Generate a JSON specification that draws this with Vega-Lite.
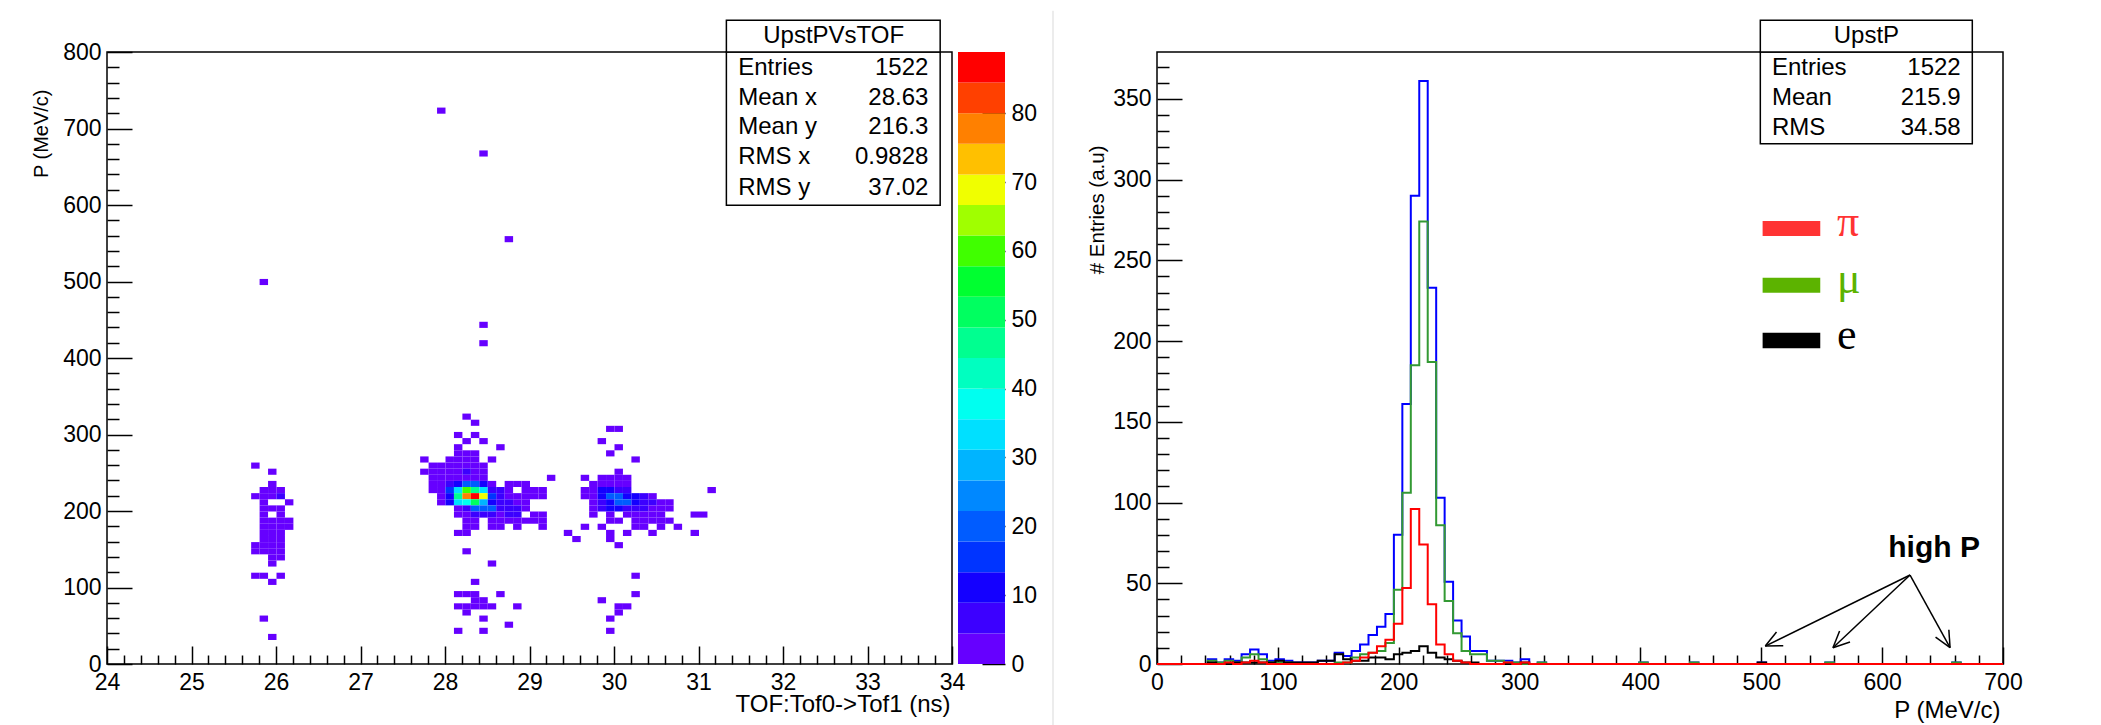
{
"$schema": "https://vega.github.io/schema/vega-lite/v6.json",
"background": "white",
"padding": {"left": 30, "top": 9, "right": 0, "bottom": 0},
"bounds": "flush",
"spacing": 6,
"config": {
  "view": {"stroke": "black", "strokeWidth": 1.5},
  "axis": {"labelFont": "Liberation Sans", "labelFontSize": 23, "labelColor": "black", "titleFont": "Liberation Sans", "titleFontSize": 22, "titleFontWeight": "normal", "titleColor": "black", "tickColor": "black", "tickWidth": 1.5, "domain": false, "grid": false, "labelOverlap": false, "labelFlush": false, "labelBound": false}
},
"datasets": {
  "cells": [
{"x":25.7,"y":256,"c":1},{"x":25.9,"y":248,"c":1},{"x":25.9,"y":232,"c":1},
{"x":25.8,"y":224,"c":2},{"x":25.9,"y":224,"c":1},{"x":26.0,"y":224,"c":1},
{"x":25.7,"y":216,"c":2},{"x":25.8,"y":216,"c":2},{"x":25.9,"y":216,"c":1},{"x":26.0,"y":216,"c":5},
{"x":25.8,"y":208,"c":1},{"x":26.1,"y":208,"c":2},
{"x":25.8,"y":200,"c":2},{"x":25.9,"y":200,"c":3},{"x":26.0,"y":200,"c":2},
{"x":25.8,"y":192,"c":3},{"x":26.0,"y":192,"c":2},
{"x":25.8,"y":184,"c":2},{"x":25.9,"y":184,"c":2},{"x":26.0,"y":184,"c":3},{"x":26.1,"y":184,"c":1},
{"x":25.8,"y":176,"c":3},{"x":25.9,"y":176,"c":2},{"x":26.0,"y":176,"c":2},{"x":26.1,"y":176,"c":2},
{"x":25.8,"y":168,"c":2},{"x":25.9,"y":168,"c":3},{"x":26.0,"y":168,"c":2},
{"x":25.8,"y":160,"c":3},{"x":25.9,"y":160,"c":2},{"x":26.0,"y":160,"c":2},
{"x":25.7,"y":152,"c":1},{"x":25.8,"y":152,"c":3},{"x":25.9,"y":152,"c":2},{"x":26.0,"y":152,"c":1},
{"x":25.7,"y":144,"c":2},{"x":25.8,"y":144,"c":2},{"x":25.9,"y":144,"c":2},{"x":26.0,"y":144,"c":3},
{"x":25.9,"y":136,"c":2},{"x":26.0,"y":136,"c":1},{"x":25.9,"y":128,"c":1},
{"x":25.7,"y":112,"c":1},{"x":25.8,"y":112,"c":1},{"x":26.0,"y":112,"c":1},
{"x":25.9,"y":104,"c":1},{"x":25.8,"y":56,"c":1},{"x":25.9,"y":32,"c":1},{"x":25.8,"y":496,"c":1},
{"x":28.2,"y":320,"c":1},{"x":28.3,"y":312,"c":1},
{"x":28.1,"y":296,"c":1},{"x":28.3,"y":296,"c":1},
{"x":28.2,"y":288,"c":1},{"x":28.4,"y":288,"c":1},
{"x":28.1,"y":280,"c":1},{"x":28.6,"y":280,"c":1},
{"x":28.1,"y":272,"c":2},{"x":28.2,"y":272,"c":1},{"x":28.3,"y":272,"c":1},
{"x":27.7,"y":264,"c":1},{"x":28.0,"y":264,"c":2},{"x":28.1,"y":264,"c":3},{"x":28.2,"y":264,"c":3},{"x":28.3,"y":264,"c":2},{"x":28.5,"y":264,"c":1},
{"x":27.8,"y":256,"c":2},{"x":27.9,"y":256,"c":3},{"x":28.0,"y":256,"c":3},{"x":28.1,"y":256,"c":4},{"x":28.2,"y":256,"c":3},{"x":28.3,"y":256,"c":4},{"x":28.4,"y":256,"c":2},
{"x":27.7,"y":248,"c":1},{"x":27.8,"y":248,"c":3},{"x":27.9,"y":248,"c":3},{"x":28.0,"y":248,"c":4},{"x":28.1,"y":248,"c":4},{"x":28.2,"y":248,"c":6},{"x":28.3,"y":248,"c":4},{"x":28.4,"y":248,"c":3},
{"x":27.8,"y":240,"c":2},{"x":27.9,"y":240,"c":3},{"x":28.0,"y":240,"c":4},{"x":28.1,"y":240,"c":4},{"x":28.2,"y":240,"c":3},{"x":28.3,"y":240,"c":4},{"x":28.4,"y":240,"c":3},{"x":29.2,"y":240,"c":1},
{"x":27.8,"y":232,"c":2},{"x":27.9,"y":232,"c":3},{"x":28.0,"y":232,"c":7},{"x":28.1,"y":232,"c":12},{"x":28.2,"y":232,"c":20},{"x":28.3,"y":232,"c":18},{"x":28.4,"y":232,"c":10},{"x":28.5,"y":232,"c":3},{"x":28.7,"y":232,"c":2},{"x":28.8,"y":232,"c":1},{"x":28.9,"y":232,"c":2},
{"x":27.8,"y":224,"c":1},{"x":27.9,"y":224,"c":4},{"x":28.0,"y":224,"c":14},{"x":28.1,"y":224,"c":33},{"x":28.2,"y":224,"c":58},{"x":28.3,"y":224,"c":48},{"x":28.4,"y":224,"c":32},{"x":28.5,"y":224,"c":7},{"x":28.6,"y":224,"c":5},{"x":28.7,"y":224,"c":3},{"x":28.9,"y":224,"c":2},{"x":29.0,"y":224,"c":3},{"x":29.1,"y":224,"c":2},
{"x":27.9,"y":216,"c":3},{"x":28.0,"y":216,"c":12},{"x":28.1,"y":216,"c":45},{"x":28.2,"y":216,"c":78},{"x":28.3,"y":216,"c":88},{"x":28.4,"y":216,"c":68},{"x":28.5,"y":216,"c":17},{"x":28.6,"y":216,"c":6},{"x":28.7,"y":216,"c":4},{"x":28.8,"y":216,"c":3},{"x":28.9,"y":216,"c":3},{"x":29.0,"y":216,"c":2},{"x":29.1,"y":216,"c":1},
{"x":27.9,"y":208,"c":2},{"x":28.0,"y":208,"c":9},{"x":28.1,"y":208,"c":33},{"x":28.2,"y":208,"c":40},{"x":28.3,"y":208,"c":50},{"x":28.4,"y":208,"c":30},{"x":28.5,"y":208,"c":13},{"x":28.6,"y":208,"c":5},{"x":28.7,"y":208,"c":6},{"x":28.8,"y":208,"c":3},{"x":28.9,"y":208,"c":2},
{"x":28.1,"y":200,"c":3},{"x":28.2,"y":200,"c":8},{"x":28.3,"y":200,"c":20},{"x":28.4,"y":200,"c":22},{"x":28.5,"y":200,"c":19},{"x":28.6,"y":200,"c":6},{"x":28.7,"y":200,"c":6},{"x":28.8,"y":200,"c":5},{"x":28.9,"y":200,"c":3},
{"x":28.1,"y":192,"c":2},{"x":28.2,"y":192,"c":4},{"x":28.3,"y":192,"c":5},{"x":28.4,"y":192,"c":6},{"x":28.5,"y":192,"c":6},{"x":28.6,"y":192,"c":4},{"x":28.7,"y":192,"c":5},{"x":28.8,"y":192,"c":6},{"x":29.0,"y":192,"c":2},{"x":29.1,"y":192,"c":1},
{"x":28.2,"y":184,"c":1},{"x":28.3,"y":184,"c":1},{"x":28.5,"y":184,"c":2},{"x":28.6,"y":184,"c":1},{"x":28.7,"y":184,"c":2},{"x":28.8,"y":184,"c":2},{"x":28.9,"y":184,"c":2},{"x":29.0,"y":184,"c":2},{"x":29.1,"y":184,"c":2},
{"x":28.2,"y":176,"c":2},{"x":28.3,"y":176,"c":1},{"x":28.5,"y":176,"c":2},{"x":28.6,"y":176,"c":1},{"x":28.8,"y":176,"c":1},{"x":29.1,"y":176,"c":1},
{"x":28.1,"y":168,"c":2},{"x":28.2,"y":168,"c":1},{"x":28.2,"y":144,"c":1},{"x":28.5,"y":128,"c":1},{"x":28.3,"y":104,"c":1},
{"x":28.1,"y":88,"c":2},{"x":28.2,"y":88,"c":2},{"x":28.3,"y":88,"c":1},{"x":28.6,"y":88,"c":1},
{"x":28.3,"y":80,"c":2},{"x":28.4,"y":80,"c":1},
{"x":28.1,"y":72,"c":2},{"x":28.2,"y":72,"c":2},{"x":28.3,"y":72,"c":1},{"x":28.4,"y":72,"c":1},{"x":28.5,"y":72,"c":1},{"x":28.8,"y":72,"c":1},
{"x":28.2,"y":64,"c":1},{"x":28.4,"y":56,"c":1},{"x":28.7,"y":48,"c":1},{"x":28.1,"y":40,"c":1},{"x":28.4,"y":40,"c":1},
{"x":29.9,"y":304,"c":1},{"x":30.0,"y":304,"c":1},{"x":29.8,"y":288,"c":1},{"x":30.0,"y":280,"c":1},{"x":29.9,"y":272,"c":1},{"x":30.2,"y":264,"c":1},{"x":30.0,"y":248,"c":1},
{"x":29.6,"y":240,"c":1},{"x":29.8,"y":240,"c":2},{"x":29.9,"y":240,"c":2},{"x":30.0,"y":240,"c":3},{"x":30.1,"y":240,"c":1},
{"x":29.7,"y":232,"c":2},{"x":29.8,"y":232,"c":4},{"x":29.9,"y":232,"c":3},{"x":30.0,"y":232,"c":4},{"x":30.1,"y":232,"c":2},
{"x":29.6,"y":224,"c":1},{"x":29.7,"y":224,"c":3},{"x":29.8,"y":224,"c":9},{"x":29.9,"y":224,"c":10},{"x":30.0,"y":224,"c":8},{"x":30.1,"y":224,"c":7},{"x":31.1,"y":224,"c":1},
{"x":29.6,"y":216,"c":1},{"x":29.7,"y":216,"c":3},{"x":29.8,"y":216,"c":10},{"x":29.9,"y":216,"c":20},{"x":30.0,"y":216,"c":22},{"x":30.1,"y":216,"c":12},{"x":30.2,"y":216,"c":10},{"x":30.3,"y":216,"c":6},{"x":30.4,"y":216,"c":3},
{"x":29.7,"y":208,"c":2},{"x":29.8,"y":208,"c":8},{"x":29.9,"y":208,"c":9},{"x":30.0,"y":208,"c":20},{"x":30.1,"y":208,"c":18},{"x":30.2,"y":208,"c":12},{"x":30.3,"y":208,"c":8},{"x":30.4,"y":208,"c":5},{"x":30.5,"y":208,"c":3},{"x":30.6,"y":208,"c":2},
{"x":29.7,"y":200,"c":2},{"x":29.8,"y":200,"c":7},{"x":29.9,"y":200,"c":9},{"x":30.0,"y":200,"c":12},{"x":30.1,"y":200,"c":8},{"x":30.2,"y":200,"c":7},{"x":30.3,"y":200,"c":7},{"x":30.4,"y":200,"c":4},{"x":30.5,"y":200,"c":3},{"x":30.6,"y":200,"c":2},
{"x":29.7,"y":192,"c":1},{"x":29.9,"y":192,"c":2},{"x":30.1,"y":192,"c":3},{"x":30.2,"y":192,"c":3},{"x":30.3,"y":192,"c":2},{"x":30.4,"y":192,"c":2},{"x":30.5,"y":192,"c":1},{"x":30.9,"y":192,"c":1},{"x":31.0,"y":192,"c":1},
{"x":29.9,"y":184,"c":1},{"x":30.0,"y":184,"c":2},{"x":30.2,"y":184,"c":2},{"x":30.3,"y":184,"c":3},{"x":30.4,"y":184,"c":2},{"x":30.5,"y":184,"c":1},{"x":30.6,"y":184,"c":1},
{"x":29.6,"y":176,"c":1},{"x":29.8,"y":176,"c":1},{"x":30.2,"y":176,"c":1},{"x":30.3,"y":176,"c":1},{"x":30.5,"y":176,"c":1},{"x":30.7,"y":176,"c":1},
{"x":29.4,"y":168,"c":1},{"x":29.9,"y":168,"c":1},{"x":30.1,"y":168,"c":1},{"x":30.4,"y":168,"c":1},{"x":30.9,"y":168,"c":1},
{"x":29.5,"y":160,"c":1},{"x":29.9,"y":160,"c":2},{"x":30.0,"y":152,"c":1},{"x":30.2,"y":112,"c":1},{"x":30.2,"y":88,"c":1},{"x":29.8,"y":80,"c":1},
{"x":30.0,"y":72,"c":1},{"x":30.1,"y":72,"c":1},{"x":30.0,"y":64,"c":1},{"x":29.9,"y":56,"c":1},{"x":29.9,"y":40,"c":1},
{"x":27.9,"y":720,"c":1},{"x":28.4,"y":664,"c":1},{"x":28.7,"y":552,"c":1},{"x":28.4,"y":440,"c":1},{"x":28.4,"y":416,"c":1}
  ],
  "bands": [
{"lo":0,"hi":4.445,"m":2},{"lo":4.445,"hi":8.89,"m":6},{"lo":8.89,"hi":13.335,"m":11},{"lo":13.335,"hi":17.78,"m":15},
{"lo":17.78,"hi":22.225,"m":20},{"lo":22.225,"hi":26.67,"m":24},{"lo":26.67,"hi":31.115,"m":29},{"lo":31.115,"hi":35.56,"m":33},
{"lo":35.56,"hi":40.005,"m":38},{"lo":40.005,"hi":44.45,"m":42},{"lo":44.45,"hi":48.895,"m":47},{"lo":48.895,"hi":53.34,"m":51},
{"lo":53.34,"hi":57.785,"m":55},{"lo":57.785,"hi":62.23,"m":60},{"lo":62.23,"hi":66.675,"m":64},{"lo":66.675,"hi":71.12,"m":69},
{"lo":71.12,"hi":75.565,"m":73},{"lo":75.565,"hi":80.01,"m":78},{"lo":80.01,"hi":84.455,"m":82},{"lo":84.455,"hi":88.9,"m":87}
  ],
  "hist": [
{"p":0,"a":0,"m":0,"r":0,"e":0},{"p":7,"a":0,"m":0,"r":0,"e":0},{"p":14,"a":0,"m":0,"r":0,"e":0},{"p":21,"a":0,"m":0,"r":0,"e":0},
{"p":28,"a":0,"m":0,"r":0,"e":0},{"p":35,"a":0,"m":0,"r":0,"e":0},{"p":42,"a":3,"m":2,"r":0,"e":1},{"p":49,"a":1,"m":1,"r":0,"e":0},
{"p":56,"a":3,"m":2,"r":1,"e":0},{"p":63,"a":2,"m":1,"r":0,"e":1},{"p":70,"a":6,"m":4,"r":1,"e":1},{"p":77,"a":9,"m":6,"r":2,"e":1},
{"p":84,"a":6,"m":3,"r":1,"e":1},{"p":91,"a":2,"m":1,"r":0,"e":1},{"p":98,"a":3,"m":1,"r":0,"e":2},{"p":105,"a":2,"m":1,"r":0,"e":1},
{"p":112,"a":1,"m":0,"r":0,"e":1},{"p":119,"a":1,"m":0,"r":0,"e":1},{"p":126,"a":1,"m":0,"r":0,"e":1},{"p":133,"a":2,"m":0,"r":0,"e":2},
{"p":140,"a":2,"m":0,"r":0,"e":2},{"p":147,"a":7,"m":1,"r":0,"e":6},{"p":154,"a":5,"m":1,"r":1,"e":3},{"p":161,"a":8,"m":4,"r":2,"e":2},
{"p":168,"a":12,"m":6,"r":4,"e":2},{"p":175,"a":18,"m":7,"r":7,"e":4},{"p":182,"a":23,"m":8,"r":11,"e":4},{"p":189,"a":31,"m":13,"r":15,"e":3},
{"p":196,"a":80,"m":46,"r":25,"e":6},{"p":203,"a":161,"m":106,"r":47,"e":7},{"p":210,"a":290,"m":185,"r":96,"e":8},{"p":217,"a":361,"m":274,"r":74,"e":11},
{"p":224,"a":233,"m":187,"r":37,"e":7},{"p":231,"a":103,"m":86,"r":12,"e":4},{"p":238,"a":51,"m":39,"r":6,"e":3},{"p":245,"a":27,"m":19,"r":2,"e":2},
{"p":252,"a":17,"m":8,"r":1,"e":1},{"p":259,"a":8,"m":6,"r":0,"e":1},{"p":266,"a":8,"m":6,"r":0,"e":0},{"p":273,"a":2,"m":2,"r":0,"e":0},
{"p":280,"a":2,"m":2,"r":0,"e":0},{"p":287,"a":2,"m":1,"r":1,"e":0},{"p":294,"a":1,"m":1,"r":0,"e":0},{"p":301,"a":3,"m":0,"r":1,"e":1},
{"p":308,"a":0,"m":0,"r":0,"e":0},{"p":315,"a":1,"m":1,"r":0,"e":0},{"p":322,"a":0,"m":0,"r":0,"e":0},{"p":329,"a":0,"m":0,"r":0,"e":0},
{"p":336,"a":0,"m":0,"r":0,"e":0},{"p":343,"a":0,"m":0,"r":0,"e":0},{"p":350,"a":0,"m":0,"r":0,"e":0},{"p":357,"a":0,"m":0,"r":0,"e":0},
{"p":364,"a":0,"m":0,"r":0,"e":0},{"p":371,"a":0,"m":0,"r":0,"e":0},{"p":378,"a":0,"m":0,"r":0,"e":0},{"p":385,"a":0,"m":0,"r":0,"e":0},
{"p":392,"a":0,"m":0,"r":0,"e":0},{"p":399,"a":1,"m":1,"r":0,"e":0},{"p":406,"a":0,"m":0,"r":0,"e":0},{"p":413,"a":0,"m":0,"r":0,"e":0},
{"p":420,"a":0,"m":0,"r":0,"e":0},{"p":427,"a":0,"m":0,"r":0,"e":0},{"p":434,"a":0,"m":0,"r":0,"e":0},{"p":441,"a":1,"m":1,"r":0,"e":0},
{"p":448,"a":0,"m":0,"r":0,"e":0},{"p":455,"a":0,"m":0,"r":0,"e":0},{"p":462,"a":0,"m":0,"r":0,"e":0},{"p":469,"a":0,"m":0,"r":0,"e":0},
{"p":476,"a":0,"m":0,"r":0,"e":0},{"p":483,"a":0,"m":0,"r":0,"e":0},{"p":490,"a":0,"m":0,"r":0,"e":0},{"p":497,"a":1,"m":0,"r":0,"e":1},
{"p":504,"a":0,"m":0,"r":0,"e":0},{"p":511,"a":0,"m":0,"r":0,"e":0},{"p":518,"a":0,"m":0,"r":0,"e":0},{"p":525,"a":0,"m":0,"r":0,"e":0},
{"p":532,"a":0,"m":0,"r":0,"e":0},{"p":539,"a":0,"m":0,"r":0,"e":0},{"p":546,"a":0,"m":0,"r":0,"e":0},{"p":553,"a":1,"m":1,"r":0,"e":0},
{"p":560,"a":0,"m":0,"r":0,"e":0},{"p":567,"a":0,"m":0,"r":0,"e":0},{"p":574,"a":0,"m":0,"r":0,"e":0},{"p":581,"a":0,"m":0,"r":0,"e":0},
{"p":588,"a":0,"m":0,"r":0,"e":0},{"p":595,"a":0,"m":0,"r":0,"e":0},{"p":602,"a":0,"m":0,"r":0,"e":0},{"p":609,"a":0,"m":0,"r":0,"e":0},
{"p":616,"a":0,"m":0,"r":0,"e":0},{"p":623,"a":0,"m":0,"r":0,"e":0},{"p":630,"a":0,"m":0,"r":0,"e":0},{"p":637,"a":0,"m":0,"r":0,"e":0},
{"p":644,"a":0,"m":0,"r":0,"e":0},{"p":651,"a":0,"m":0,"r":0,"e":0},{"p":658,"a":1,"m":1,"r":0,"e":0},{"p":665,"a":0,"m":0,"r":0,"e":0},
{"p":672,"a":0,"m":0,"r":0,"e":0},{"p":679,"a":0,"m":0,"r":0,"e":0},{"p":686,"a":0,"m":0,"r":0,"e":0},{"p":693,"a":0,"m":0,"r":0,"e":0},
{"p":700,"a":0,"m":0,"r":0,"e":0}
  ]
},
"hconcat": [
{
  "width": 845, "height": 612,
  "layer": [
    {"data": {"name": "cells"},
     "mark": {"type": "rect", "binSpacing": 0},
     "encoding": {
       "x": {"field": "x", "type": "quantitative", "bin": {"binned": true, "step": 0.1}, "scale": {"domain": [24, 34], "nice": false, "zero": false},
             "axis": {"values": [24,24.2,24.4,24.6,24.8,25,25.2,25.4,25.6,25.8,26,26.2,26.4,26.6,26.8,27,27.2,27.4,27.6,27.8,28,28.2,28.4,28.6,28.8,29,29.2,29.4,29.6,29.8,30,30.2,30.4,30.6,30.8,31,31.2,31.4,31.6,31.8,32,32.2,32.4,32.6,32.8,33,33.2,33.4,33.6,33.8,34],
                      "tickCount": 500, "tickMinStep": 0.01,
                      "labelExpr": "abs(datum.value - round(datum.value)) < 0.001 ? format(datum.value, 'd') : ''", "labelOverlap": false,
                      "tickSize": {"condition": {"test": "abs(datum.value - round(datum.value)) < 0.001", "value": -18}, "value": -9},
                      "labelPadding": 25,
                      "title": "TOF:Tof0->Tof1 (ns)", "titleFontSize": 24, "titleX": 843, "titleY": 47, "titleAlign": "right", "titleBaseline": "alphabetic", "titleAngle": 0}},
       "y": {"field": "y", "type": "quantitative", "bin": {"binned": true, "step": 8}, "scale": {"domain": [0, 800], "nice": false, "zero": false},
             "axis": {"values": [0,20,40,60,80,100,120,140,160,180,200,220,240,260,280,300,320,340,360,380,400,420,440,460,480,500,520,540,560,580,600,620,640,660,680,700,720,740,760,780,800],
                      "tickCount": 500, "tickMinStep": 1,
                      "format": "d", "labelExpr": "datum.value % 100 === 0 ? datum.label : ''", "labelOverlap": false,
                      "tickSize": {"condition": {"test": "datum.value % 100 === 0", "value": -25}, "value": -12},
                      "labelPadding": 31,
                      "title": "P (MeV/c)", "titleFontSize": 20, "titleX": -66, "titleY": 37, "titleAlign": "right", "titleBaseline": "middle", "titleAngle": 270}},
       "color": {"field": "c", "type": "quantitative", "legend": null,
                 "scale": {"type": "threshold", "domain": [4.445,8.89,13.335,17.78,22.225,26.67,31.115,35.56,40.005,44.45,48.895,53.34,57.785,62.23,66.675,71.12,75.565,80.01,84.455],
                           "range": ["#6600ff","#3c00ff","#1400ff","#0034ff","#005cff","#0088ff","#00b4ff","#00e0ff","#00fff0","#00ffc0","#00ff90","#00ff60","#00ff30","#40ff00","#a0ff00","#f0ff00","#ffc000","#ff8000","#ff4000","#ff0000"]}}
     }},
    {"data": {"values": [{"x":31.33,"x2":33.86,"y":599.6,"y2":800},{"x":31.33,"x2":33.86,"y":800,"y2":841.4}]},
     "mark": {"type": "rect", "fill": "white", "stroke": "black", "strokeWidth": 1.5},
     "encoding": {
       "x": {"field": "x", "type": "quantitative", "scale": {"domain": [24, 34], "nice": false, "zero": false}},
       "x2": {"field": "x2"},
       "y": {"field": "y", "type": "quantitative", "scale": {"domain": [0, 800], "nice": false, "zero": false}},
       "y2": {"field": "y2"}
     }},
    {"data": {"values": [{"x":32.6,"y":820.9,"t":"UpstPVsTOF"}]},
     "mark": {"type": "text", "align": "center", "baseline": "middle", "font": "Liberation Sans", "fontSize": 24, "color": "black"},
     "encoding": {
       "x": {"field": "x", "type": "quantitative", "scale": {"domain": [24, 34], "nice": false, "zero": false}},
       "y": {"field": "y", "type": "quantitative", "scale": {"domain": [0, 800], "nice": false, "zero": false}},
       "text": {"field": "t"}
     }},
    {"data": {"values": [{"x":31.47,"y":779.5,"t":"Entries"},{"x":31.47,"y":739.5,"t":"Mean x"},{"x":31.47,"y":701.7,"t":"Mean y"},{"x":31.47,"y":662.5,"t":"RMS x"},{"x":31.47,"y":622.6,"t":"RMS y"}]},
     "mark": {"type": "text", "align": "left", "baseline": "middle", "font": "Liberation Sans", "fontSize": 24, "color": "black"},
     "encoding": {
       "x": {"field": "x", "type": "quantitative", "scale": {"domain": [24, 34], "nice": false, "zero": false}},
       "y": {"field": "y", "type": "quantitative", "scale": {"domain": [0, 800], "nice": false, "zero": false}},
       "text": {"field": "t"}
     }},
    {"data": {"values": [{"x":33.72,"y":779.5,"t":"1522"},{"x":33.72,"y":739.5,"t":"28.63"},{"x":33.72,"y":701.7,"t":"216.3"},{"x":33.72,"y":662.5,"t":"0.9828"},{"x":33.72,"y":622.6,"t":"37.02"}]},
     "mark": {"type": "text", "align": "right", "baseline": "middle", "font": "Liberation Sans", "fontSize": 24, "color": "black"},
     "encoding": {
       "x": {"field": "x", "type": "quantitative", "scale": {"domain": [24, 34], "nice": false, "zero": false}},
       "y": {"field": "y", "type": "quantitative", "scale": {"domain": [0, 800], "nice": false, "zero": false}},
       "text": {"field": "t"}
     }}
  ]
},
{
  "width": 193, "height": 612,
  "view": {"stroke": null},
  "layer": [
    {"data": {"name": "bands"},
     "mark": {"type": "rect"},
     "encoding": {
       "x": {"datum": 0, "type": "quantitative", "scale": {"domain": [0, 193], "nice": false, "zero": false}, "axis": null},
       "x2": {"datum": 47},
       "y": {"field": "lo", "type": "quantitative", "scale": {"domain": [0, 88.9], "nice": false, "zero": false},
             "axis": {"orient": "right", "offset": -146, "values": [0,10,20,30,40,50,60,70,80], "tickCount": 500, "format": "d", "tickSize": -23, "labelPadding": 29, "title": null, "labelOverlap": false}},
       "y2": {"field": "hi"},
       "color": {"field": "m", "type": "quantitative", "legend": null,
                 "scale": {"type": "threshold", "domain": [4.445,8.89,13.335,17.78,22.225,26.67,31.115,35.56,40.005,44.45,48.895,53.34,57.785,62.23,66.675,71.12,75.565,80.01,84.455],
                           "range": ["#6600ff","#3c00ff","#1400ff","#0034ff","#005cff","#0088ff","#00b4ff","#00e0ff","#00fff0","#00ffc0","#00ff90","#00ff60","#00ff30","#40ff00","#a0ff00","#f0ff00","#ffc000","#ff8000","#ff4000","#ff0000"]}}
     }},
    {"data": {"values": [{"x": 95, "y": 94.9, "y2": -10.5}]},
     "mark": {"type": "rule", "color": "#e6e6e6", "strokeWidth": 1.5},
     "encoding": {
       "x": {"field": "x", "type": "quantitative", "scale": {"domain": [0, 193], "nice": false, "zero": false}, "axis": null},
       "y": {"field": "y", "type": "quantitative", "scale": {"domain": [0, 88.9], "nice": false, "zero": false}},
       "y2": {"field": "y2"}
     }}
  ]
},
{
  "width": 846, "height": 612,
  "layer": [
    {"data": {"name": "hist"},
     "mark": {"type": "line", "interpolate": "step-after", "strokeWidth": 2, "color": "#0000ff"},
     "encoding": {
       "x": {"field": "p", "type": "quantitative", "scale": {"domain": [0, 700], "nice": false, "zero": false},
             "axis": {"values": [0,20,40,60,80,100,120,140,160,180,200,220,240,260,280,300,320,340,360,380,400,420,440,460,480,500,520,540,560,580,600,620,640,660,680,700],
                      "tickCount": 500,
                      "format": "d", "labelExpr": "datum.value % 100 === 0 ? datum.label : ''", "labelOverlap": false,
                      "tickSize": {"condition": {"test": "datum.value % 100 === 0", "value": -17}, "value": -9},
                      "labelPadding": 24,
                      "title": "P (MeV/c)", "titleFontSize": 24, "titleX": 843, "titleY": 53, "titleAlign": "right", "titleBaseline": "alphabetic", "titleAngle": 0}},
       "y": {"field": "a", "type": "quantitative", "scale": {"domain": [0, 379], "nice": false, "zero": false},
             "axis": {"values": [0,10,20,30,40,50,60,70,80,90,100,110,120,130,140,150,160,170,180,190,200,210,220,230,240,250,260,270,280,290,300,310,320,330,340,350,360,370],
                      "tickCount": 500,
                      "format": "d", "labelExpr": "datum.value % 50 === 0 ? datum.label : ''", "labelOverlap": false,
                      "tickSize": {"condition": {"test": "datum.value % 50 === 0", "value": -25}, "value": -12},
                      "labelPadding": 31,
                      "title": "# Entries (a.u)", "titleFontSize": 20.5, "titleX": -60, "titleY": 93, "titleAlign": "right", "titleBaseline": "middle", "titleAngle": 270}}
     }},
    {"data": {"name": "hist"},
     "mark": {"type": "line", "interpolate": "step-after", "strokeWidth": 2, "color": "#339933"},
     "encoding": {
       "x": {"field": "p", "type": "quantitative", "scale": {"domain": [0, 700], "nice": false, "zero": false}},
       "y": {"field": "m", "type": "quantitative", "scale": {"domain": [0, 379], "nice": false, "zero": false}}
     }},
    {"data": {"name": "hist"},
     "mark": {"type": "line", "interpolate": "step-after", "strokeWidth": 2, "color": "#000000"},
     "encoding": {
       "x": {"field": "p", "type": "quantitative", "scale": {"domain": [0, 700], "nice": false, "zero": false}},
       "y": {"field": "e", "type": "quantitative", "scale": {"domain": [0, 379], "nice": false, "zero": false}}
     }},
    {"data": {"name": "hist"},
     "mark": {"type": "line", "interpolate": "step-after", "strokeWidth": 2, "color": "#ff0000"},
     "encoding": {
       "x": {"field": "p", "type": "quantitative", "scale": {"domain": [0, 700], "nice": false, "zero": false}},
       "y": {"field": "r", "type": "quantitative", "scale": {"domain": [0, 379], "nice": false, "zero": false}}
     }},
    {"data": {"values": [{"x":499.2,"x2":674.6,"y":322.2,"y2":379},{"x":499.2,"x2":674.6,"y":379,"y2":398.6}]},
     "mark": {"type": "rect", "fill": "white", "stroke": "black", "strokeWidth": 1.5},
     "encoding": {
       "x": {"field": "x", "type": "quantitative", "scale": {"domain": [0, 700], "nice": false, "zero": false}},
       "x2": {"field": "x2"},
       "y": {"field": "y", "type": "quantitative", "scale": {"domain": [0, 379], "nice": false, "zero": false}},
       "y2": {"field": "y2"}
     }},
    {"data": {"values": [{"x":587,"y":388.9,"t":"UpstP"}]},
     "mark": {"type": "text", "align": "center", "baseline": "middle", "font": "Liberation Sans", "fontSize": 24, "color": "black"},
     "encoding": {
       "x": {"field": "x", "type": "quantitative", "scale": {"domain": [0, 700], "nice": false, "zero": false}},
       "y": {"field": "y", "type": "quantitative", "scale": {"domain": [0, 379], "nice": false, "zero": false}},
       "text": {"field": "t"}
     }},
    {"data": {"values": [{"x":508.8,"y":369.2,"t":"Entries"},{"x":508.8,"y":350.5,"t":"Mean"},{"x":508.8,"y":332.1,"t":"RMS"}]},
     "mark": {"type": "text", "align": "left", "baseline": "middle", "font": "Liberation Sans", "fontSize": 24, "color": "black"},
     "encoding": {
       "x": {"field": "x", "type": "quantitative", "scale": {"domain": [0, 700], "nice": false, "zero": false}},
       "y": {"field": "y", "type": "quantitative", "scale": {"domain": [0, 379], "nice": false, "zero": false}},
       "text": {"field": "t"}
     }},
    {"data": {"values": [{"x":665,"y":369.2,"t":"1522"},{"x":665,"y":350.5,"t":"215.9"},{"x":665,"y":332.1,"t":"34.58"}]},
     "mark": {"type": "text", "align": "right", "baseline": "middle", "font": "Liberation Sans", "fontSize": 24, "color": "black"},
     "encoding": {
       "x": {"field": "x", "type": "quantitative", "scale": {"domain": [0, 700], "nice": false, "zero": false}},
       "y": {"field": "y", "type": "quantitative", "scale": {"domain": [0, 379], "nice": false, "zero": false}},
       "text": {"field": "t"}
     }},
    {"data": {"values": [{"t":"π","x":501.1,"x2":548.8,"y":265,"y2":274.3},{"t":"μ","x":501.1,"x2":548.8,"y":229.9,"y2":239.2},{"t":"e","x":501.1,"x2":548.8,"y":195.5,"y2":205.1}]},
     "mark": {"type": "rect"},
     "encoding": {
       "x": {"field": "x", "type": "quantitative", "scale": {"domain": [0, 700], "nice": false, "zero": false}},
       "x2": {"field": "x2"},
       "y": {"field": "y", "type": "quantitative", "scale": {"domain": [0, 379], "nice": false, "zero": false}},
       "y2": {"field": "y2"},
       "fill": {"field": "t", "type": "nominal", "legend": null, "scale": {"domain": ["π","μ","e"], "range": ["#ff3333","#5cb300","#000000"]}}
     }},
    {"data": {"values": [{"t":"π","x":562.6,"y":265},{"t":"μ","x":562.6,"y":229.9},{"t":"e","x":562.6,"y":194.9}]},
     "mark": {"type": "text", "align": "left", "baseline": "alphabetic", "font": "Liberation Serif", "fontSize": 44},
     "encoding": {
       "x": {"field": "x", "type": "quantitative", "scale": {"domain": [0, 700], "nice": false, "zero": false}},
       "y": {"field": "y", "type": "quantitative", "scale": {"domain": [0, 379], "nice": false, "zero": false}},
       "text": {"field": "t"},
       "fill": {"field": "t", "type": "nominal", "legend": null, "scale": {"domain": ["π","μ","e"], "range": ["#ff3333","#5cb300","#000000"]}}
     }},
    {"data": {"values": [{"x":643,"y":66.5,"t":"high P"}]},
     "mark": {"type": "text", "align": "center", "baseline": "alphabetic", "font": "Liberation Sans", "fontSize": 30, "fontWeight": "bold", "color": "black"},
     "encoding": {
       "x": {"field": "x", "type": "quantitative", "scale": {"domain": [0, 700], "nice": false, "zero": false}},
       "y": {"field": "y", "type": "quantitative", "scale": {"domain": [0, 379], "nice": false, "zero": false}},
       "text": {"field": "t"}
     }},
    {"data": {"values": [
       {"x":623.1,"y":55.1,"x2":503.3,"y2":11.1},{"x":623.1,"y":55.1,"x2":559.3,"y2":10.1},{"x":623.1,"y":55.1,"x2":656.2,"y2":10.1},
       {"x":503.3,"y":11.1,"x2":518.2,"y2":11.3},{"x":503.3,"y":11.1,"x2":512.6,"y2":19.8},
       {"x":559.3,"y":10.1,"x2":573.4,"y2":13.6},{"x":559.3,"y":10.1,"x2":564.8,"y2":20.4},
       {"x":656.2,"y":10.1,"x2":655.2,"y2":21.2},{"x":656.2,"y":10.1,"x2":644.2,"y2":16.7}]},
     "mark": {"type": "rule", "color": "black", "strokeWidth": 1.5},
     "encoding": {
       "x": {"field": "x", "type": "quantitative", "scale": {"domain": [0, 700], "nice": false, "zero": false}},
       "x2": {"field": "x2"},
       "y": {"field": "y", "type": "quantitative", "scale": {"domain": [0, 379], "nice": false, "zero": false}},
       "y2": {"field": "y2"}
     }}
  ]
}
]
}
